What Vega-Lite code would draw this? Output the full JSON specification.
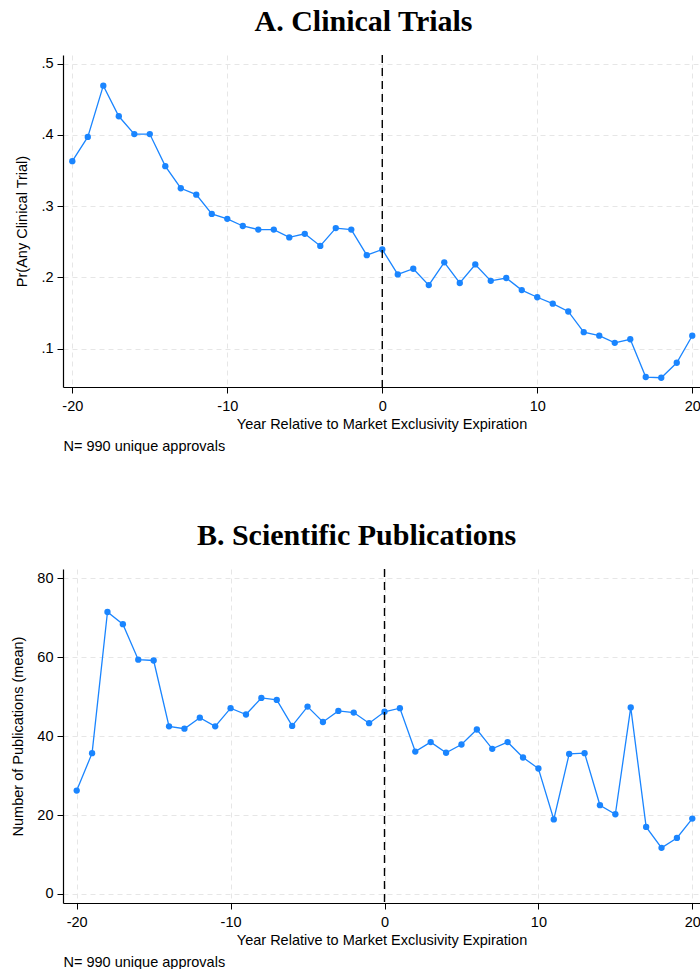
{
  "$schema": "https://vega.github.io/schema/vega-lite/v6.json",
  "padding": {"left": 10, "top": 7, "right": 0, "bottom": 0},
  "background": "white",
  "datasets": {
    "trials": [
      {"year": -20, "value": 0.363}, {"year": -19, "value": 0.397}, {"year": -18, "value": 0.469},
      {"year": -17, "value": 0.426}, {"year": -16, "value": 0.401}, {"year": -15, "value": 0.401},
      {"year": -14, "value": 0.356}, {"year": -13, "value": 0.325}, {"year": -12, "value": 0.316},
      {"year": -11, "value": 0.289}, {"year": -10, "value": 0.282}, {"year": -9, "value": 0.272},
      {"year": -8, "value": 0.267}, {"year": -7, "value": 0.267}, {"year": -6, "value": 0.256},
      {"year": -5, "value": 0.261}, {"year": -4, "value": 0.244}, {"year": -3, "value": 0.269},
      {"year": -2, "value": 0.267}, {"year": -1, "value": 0.231}, {"year": 0, "value": 0.239},
      {"year": 1, "value": 0.204}, {"year": 2, "value": 0.212}, {"year": 3, "value": 0.189},
      {"year": 4, "value": 0.221}, {"year": 5, "value": 0.192}, {"year": 6, "value": 0.218},
      {"year": 7, "value": 0.195}, {"year": 8, "value": 0.199}, {"year": 9, "value": 0.182},
      {"year": 10, "value": 0.172}, {"year": 11, "value": 0.163}, {"year": 12, "value": 0.152},
      {"year": 13, "value": 0.123}, {"year": 14, "value": 0.118}, {"year": 15, "value": 0.108},
      {"year": 16, "value": 0.113}, {"year": 17, "value": 0.060}, {"year": 18, "value": 0.059},
      {"year": 19, "value": 0.080}, {"year": 20, "value": 0.118}
    ],
    "pubs": [
      {"year": -20, "value": 26.2}, {"year": -19, "value": 35.7}, {"year": -18, "value": 71.5},
      {"year": -17, "value": 68.4}, {"year": -16, "value": 59.4}, {"year": -15, "value": 59.2},
      {"year": -14, "value": 42.5}, {"year": -13, "value": 41.9}, {"year": -12, "value": 44.7},
      {"year": -11, "value": 42.5}, {"year": -10, "value": 47.1}, {"year": -9, "value": 45.5},
      {"year": -8, "value": 49.7}, {"year": -7, "value": 49.2}, {"year": -6, "value": 42.6},
      {"year": -5, "value": 47.5}, {"year": -4, "value": 43.6}, {"year": -3, "value": 46.4},
      {"year": -2, "value": 46.0}, {"year": -1, "value": 43.3}, {"year": 0, "value": 46.2},
      {"year": 1, "value": 47.1}, {"year": 2, "value": 36.1}, {"year": 3, "value": 38.5},
      {"year": 4, "value": 35.8}, {"year": 5, "value": 37.9}, {"year": 6, "value": 41.7},
      {"year": 7, "value": 36.8}, {"year": 8, "value": 38.5}, {"year": 9, "value": 34.6},
      {"year": 10, "value": 31.8}, {"year": 11, "value": 18.9}, {"year": 12, "value": 35.5},
      {"year": 13, "value": 35.7}, {"year": 14, "value": 22.5}, {"year": 15, "value": 20.2},
      {"year": 16, "value": 47.3}, {"year": 17, "value": 17.0}, {"year": 18, "value": 11.7},
      {"year": 19, "value": 14.2}, {"year": 20, "value": 19.1}
    ],
    "zero": [{"year": 0}]
  },
  "spacing": 68,
  "vconcat": [
    {
      "title": {"text": "A. Clinical Trials", "font": "Liberation Serif", "fontSize": 30, "fontWeight": "bold", "color": "black", "anchor": "middle", "offset": 17, "dx": -18},
      "width": 637,
      "height": 332,
      "layer": [
        {
          "data": {"name": "trials"},
          "mark": {"type": "line", "color": "#1a85ff", "strokeWidth": 1.3, "point": {"filled": true, "size": 40, "color": "#1a85ff", "opacity": 1}},
          "encoding": {
            "x": {"field": "year", "type": "quantitative",
              "scale": {"domain": [-20.6, 20.5], "nice": false, "zero": false},
              "axis": {"values": [-20, -10, 0, 10, 20], "labelExpr": "datum.value < 0 ? '-' + abs(datum.value) : '' + datum.value", "title": "Year Relative to Market Exclusivity Expiration", "gridDash": [5, 4], "grid": true, "labelPadding": 6, "titlePadding": 5}},
            "y": {"field": "value", "type": "quantitative",
              "scale": {"domain": [0.046, 0.512], "nice": false, "zero": false},
              "axis": {"values": [0.1, 0.2, 0.3, 0.4, 0.5], "labelExpr": "replace(format(datum.value, '.1f'), '0.', '.')", "title": "Pr(Any Clinical Trial)", "gridDash": [5, 4], "grid": true, "titlePadding": 11}}
          }
        },
        {
          "data": {"name": "zero"},
          "mark": {"type": "rule", "color": "black", "strokeWidth": 1.4, "strokeDash": [8, 5]},
          "encoding": {
            "x": {"field": "year", "type": "quantitative",
              "scale": {"domain": [-20.6, 20.5], "nice": false, "zero": false},
              "axis": {"orient": "bottom", "title": "N= 990 unique approvals", "titleAnchor": "start", "titleAlign": "left", "labels": false, "ticks": false, "domain": false, "grid": false, "titlePadding": 52}}
          }
        }
      ],
      "resolve": {"scale": {"x": "independent"}, "axis": {"x": "independent"}}
    },
    {
      "title": {"text": "B. Scientific Publications", "font": "Liberation Serif", "fontSize": 30, "fontWeight": "bold", "color": "black", "anchor": "middle", "offset": 17, "dx": -25},
      "width": 637,
      "height": 334,
      "layer": [
        {
          "data": {"name": "pubs"},
          "mark": {"type": "line", "color": "#1a85ff", "strokeWidth": 1.3, "point": {"filled": true, "size": 40, "color": "#1a85ff", "opacity": 1}},
          "encoding": {
            "x": {"field": "year", "type": "quantitative",
              "scale": {"domain": [-20.89, 20.5], "nice": false, "zero": false},
              "axis": {"values": [-20, -10, 0, 10, 20], "labelExpr": "datum.value < 0 ? '-' + abs(datum.value) : '' + datum.value", "title": "Year Relative to Market Exclusivity Expiration", "gridDash": [5, 4], "grid": true, "labelPadding": 6, "titlePadding": 5}},
            "y": {"field": "value", "type": "quantitative",
              "scale": {"domain": [-2.3, 82.4], "nice": false, "zero": false},
              "axis": {"values": [0, 20, 40, 60, 80], "title": "Number of Publications (mean)", "gridDash": [5, 4], "grid": true, "titlePadding": 11}}
          }
        },
        {
          "data": {"name": "zero"},
          "mark": {"type": "rule", "color": "black", "strokeWidth": 1.4, "strokeDash": [8, 5]},
          "encoding": {
            "x": {"field": "year", "type": "quantitative",
              "scale": {"domain": [-20.89, 20.5], "nice": false, "zero": false},
              "axis": {"orient": "bottom", "title": "N= 990 unique approvals", "titleAnchor": "start", "titleAlign": "left", "labels": false, "ticks": false, "domain": false, "grid": false, "titlePadding": 52}}
          }
        }
      ],
      "resolve": {"scale": {"x": "independent"}, "axis": {"x": "independent"}}
    }
  ],
  "config": {
    "view": {"stroke": null},
    "font": "Liberation Sans",
    "axis": {
      "labelFont": "Liberation Sans", "titleFont": "Liberation Sans",
      "labelFontSize": 14.5, "titleFontSize": 14.5, "titleFontWeight": "normal",
      "labelColor": "black", "titleColor": "black",
      "domainColor": "black", "domainWidth": 1.2, "tickColor": "black", "tickSize": 6, "tickWidth": 1,
      "gridColor": "#e6e6e6", "gridWidth": 1, "labelPadding": 4
    }
  }
}
